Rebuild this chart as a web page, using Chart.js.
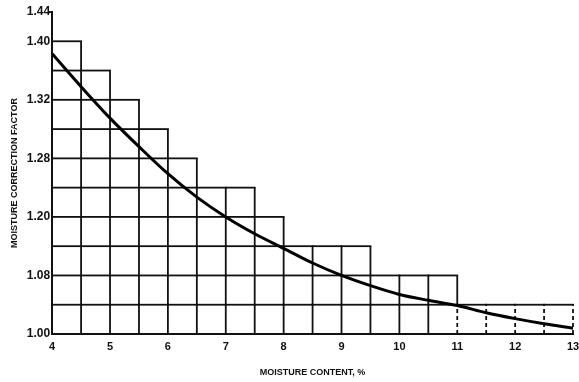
<!DOCTYPE html>
<html>
<head>
<meta charset="utf-8">
<script src="https://cdn.jsdelivr.net/npm/chart.js@4"></script>
<style>
  html, body { margin: 0; padding: 0; background: #fff; }
  #wrap { position: relative; width: 579px; height: 382px; }
</style>
</head>
<body>
<div id="wrap"><canvas id="chart"></canvas></div>
<script>
// curve: moisture correction factor vs moisture content (%)
const moistureContent = [4, 4.5, 5, 5.5, 6, 6.5, 7, 7.5, 8, 8.5, 9, 9.5, 10, 10.5, 11, 11.5, 12, 12.5, 13];
const correctionFactor = [1.383, 1.338, 1.295, 1.256, 1.219, 1.187, 1.160, 1.137, 1.117, 1.097, 1.080, 1.066, 1.054, 1.046, 1.039, 1.029, 1.021, 1.014, 1.008];

// stepped background grid: column edges and the height of each column
const columnEdges = [4, 4.5, 5, 5.5, 6, 6.5, 7, 7.5, 8, 8.5, 9, 9.5, 10, 10.5, 11, 11.5, 12, 12.5, 13];
const columnTops = [1.40, 1.36, 1.32, 1.28, 1.24, 1.20, 1.20, 1.16, 1.12, 1.12, 1.12, 1.08, 1.08, 1.08, 1.04, 1.04, 1.04, 1.04];
const rowStep = 0.04;
const dashedFrom = 11; // verticals from here on are dashed in the lowest row

// y tick labels as printed, one per grid row
const yTickValues = [1.00, 1.04, 1.08, 1.12, 1.16, 1.20, 1.24, 1.28, 1.32, 1.36, 1.40, 1.44];
const yTickLabels = ['1.00', '', '1.08', '', '1.20', '', '1.28', '', '1.32', '', '1.40', '1.44'];
const xTickLabels = ['4', '5', '6', '7', '8', '9', '10', '11', '12', '13'];

const yMin = 1.00, yMax = 1.44;

const stepGrid = {
  id: 'stepGrid',
  beforeDatasetsDraw(chart) {
    const { ctx, scales: { x, y } } = chart;
    ctx.save();
    ctx.strokeStyle = '#111';
    ctx.lineWidth = 1.8;
    ctx.lineCap = 'butt';

    // horizontal lines, one per row level, across columns tall enough
    for (let i = 0; i < columnTops.length; i++) {
      const x0 = x.getPixelForValue(columnEdges[i]);
      const x1 = x.getPixelForValue(columnEdges[i + 1]);
      const levels = Math.round((columnTops[i] - yMin) / rowStep);
      for (let k = 1; k <= levels; k++) {
        const py = y.getPixelForValue(yMin + k * rowStep);
        ctx.beginPath();
        ctx.moveTo(x0 - 0.9, py);
        ctx.lineTo(x1 + 0.9, py);
        ctx.stroke();
      }
    }

    // vertical lines at each column edge
    for (let j = 1; j < columnEdges.length; j++) {
      const left = columnTops[j - 1] || yMin;
      const right = columnTops[j] || yMin;
      const top = Math.max(left, right);
      const px = x.getPixelForValue(columnEdges[j]);
      let low = yMin;
      if (columnEdges[j] >= dashedFrom) {
        ctx.setLineDash([4, 3]);
        ctx.beginPath();
        ctx.moveTo(px, y.getPixelForValue(yMin));
        ctx.lineTo(px, y.getPixelForValue(yMin + rowStep));
        ctx.stroke();
        ctx.setLineDash([]);
        low = yMin + rowStep;
      }
      if (top > low) {
        ctx.beginPath();
        ctx.moveTo(px, y.getPixelForValue(low));
        ctx.lineTo(px, y.getPixelForValue(top));
        ctx.stroke();
      }
    }

    // small tick at the top of the y axis
    const ty = y.getPixelForValue(yMax);
    ctx.beginPath();
    ctx.moveTo(y.right - 4, ty);
    ctx.lineTo(y.right, ty);
    ctx.stroke();
    ctx.restore();
  }
};

const whiteBg = {
  id: 'whiteBg',
  beforeDraw(chart) {
    const { ctx, width, height } = chart;
    ctx.save();
    ctx.fillStyle = '#fff';
    ctx.fillRect(0, 0, width, height);
    ctx.restore();
  }
};

new Chart(document.getElementById('chart'), {
  type: 'line',
  data: {
    datasets: [{
      data: moistureContent.map((m, i) => ({ x: m, y: correctionFactor[i] })),
      borderColor: '#000',
      borderWidth: 3,
      pointRadius: 0,
      cubicInterpolationMode: 'monotone',
      fill: false
    }]
  },
  options: {
    responsive: true,
    maintainAspectRatio: false,
    animation: false,
    layout: { padding: { left: 2, right: 0, top: 12, bottom: 4 } },
    plugins: {
      legend: { display: false },
      tooltip: { enabled: false }
    },
    scales: {
      x: {
        type: 'linear',
        min: 4,
        max: 13,
        afterFit: (axis) => { axis.paddingRight = 6; },
        grid: { display: false, drawTicks: false, tickLength: 0 },
        border: { display: true, color: '#111', width: 2 },
        ticks: {
          stepSize: 1,
          padding: 6,
          color: '#111',
          font: { family: 'Liberation Sans', size: 11, weight: 'bold' },
          maxRotation: 0,
          callback: (v) => xTickLabels[Math.round(v) - 4] ?? ''
        },
        title: {
          display: true,
          text: 'MOISTURE CONTENT, %',
          color: '#111',
          font: { family: 'Liberation Sans', size: 9, weight: 'bold' },
          padding: { top: 8, bottom: 0 }
        }
      },
      y: {
        type: 'linear',
        min: yMin,
        max: yMax,
        afterBuildTicks: (axis) => { axis.ticks = yTickValues.map(v => ({ value: v })); },
        grid: { display: false, drawTicks: false, tickLength: 0 },
        border: { display: true, color: '#111', width: 2 },
        ticks: {
          padding: 2,
          color: '#111',
          autoSkip: false,
          font: { family: 'Liberation Sans', size: 12, weight: 'bold' },
          callback: (v, i) => yTickLabels[i]
        },
        title: {
          display: true,
          text: 'MOISTURE CORRECTION FACTOR',
          color: '#111',
          font: { family: 'Liberation Sans', size: 9, weight: 'bold' },
          padding: { top: 7, bottom: 5 }
        }
      }
    }
  },
  plugins: [whiteBg, stepGrid]
});
</script>
</body>
</html>
